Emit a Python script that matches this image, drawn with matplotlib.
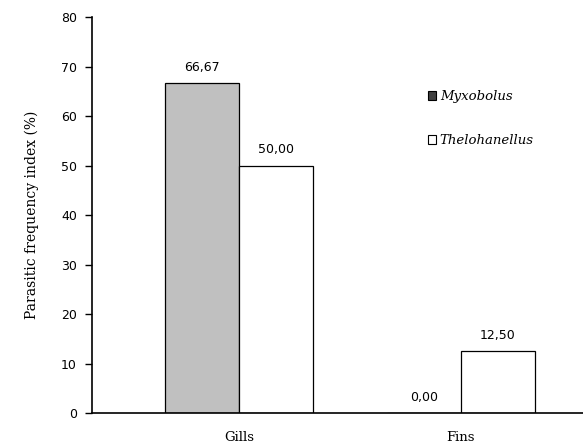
import matplotlib.pyplot as plt
from matplotlib.patches import Patch

categories = ["Gills", "Fins"]
myxobolus = [66.67, 0.00]
thelohanellus = [50.00, 12.50]
yticks = [0, 10, 20, 30, 40, 50, 60, 70, 80]

fig = plt.figure(figsize=(5.83, 4.48), dpi=100)
ax = fig.add_axes([0.158, 0.078, 0.842, 0.884])

w = 1 / 3
pos = [0, 1]
b1 = ax.bar([p - w / 2 for p in pos], myxobolus, w, color="#c0c0c0", edgecolor="black", lw=0.9)
b2 = ax.bar([p + w / 2 for p in pos], thelohanellus, w, color="white", edgecolor="black", lw=0.9)

for bars, vals in [(b1, myxobolus), (b2, thelohanellus)]:
    for bar, v in zip(bars, vals):
        ax.text(bar.get_x() + bar.get_width() / 2, v + 1.9, f"{v:.2f}".replace(".", ","),
                ha="center", va="bottom", fontsize=9, family="DejaVu Sans")

ax.set_xlim(-0.662, 1.55)
ax.set_ylim(0, 80)
ax.set_yticks(yticks)
ax.set_yticklabels([str(t) for t in yticks], fontsize=9, family="DejaVu Sans")
ax.set_xticks(pos)
ax.set_xticklabels(categories, fontsize=9.5, family="DejaVu Serif")
ax.tick_params(axis="x", length=0, pad=13)
ax.tick_params(axis="y", direction="out", length=5, width=1, pad=6)
ax.spines["top"].set_visible(False)
ax.spines["right"].set_visible(False)
ax.spines["left"].set_linewidth(1.2)
ax.spines["bottom"].set_linewidth(1.2)
ax.set_ylabel("Parasitic frequency index (%)", fontsize=10, family="DejaVu Serif", labelpad=16)

handles = [Patch(facecolor="#404040", edgecolor="black", lw=0.8),
           Patch(facecolor="white", edgecolor="black", lw=0.8)]
leg = ax.legend(handles, ["Myxobolus", "Thelohanellus"], loc="upper left",
                bbox_to_anchor=(0.66, 0.845), frameon=False, handlelength=0.6,
                handleheight=0.6, handletextpad=0.3, labelspacing=2.35,
                prop={"family": "DejaVu Serif", "style": "italic", "size": 9.5})

fig.savefig("out.png", dpi=100)
